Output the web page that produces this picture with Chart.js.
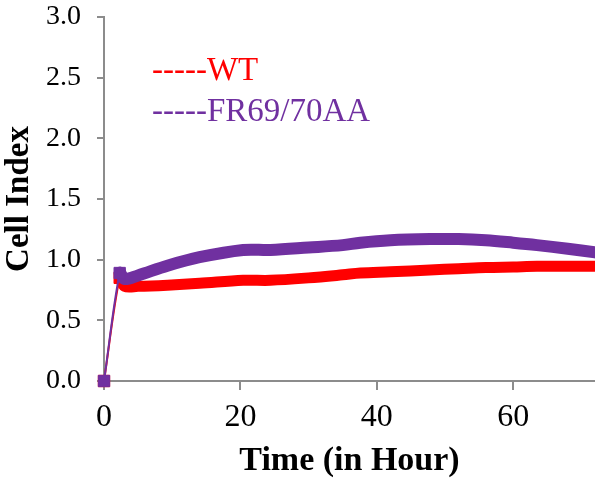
<!DOCTYPE html>
<html>
<head>
<meta charset="utf-8">
<script src="https://cdn.jsdelivr.net/npm/chart.js@4"></script>
<style>
  html, body { margin: 0; padding: 0; background: #fff; }
  canvas { display: block; }
</style>
</head>
<body>
<canvas id="chart" width="595" height="486"></canvas>
<script>
const hours = [0, 2.3, 3, 5, 9.3, 14, 20.4, 24.4, 30, 35, 37.6, 42, 47.8, 52, 56, 60, 63.5, 68, 72];
const wtIndex = [0, 0.85, 0.78, 0.78, 0.79, 0.805, 0.83, 0.83, 0.85, 0.875, 0.89, 0.90, 0.915, 0.925, 0.935, 0.94, 0.945, 0.945, 0.945];
const mutIndex = [0, 0.89, 0.84, 0.87, 0.95, 1.02, 1.08, 1.08, 1.10, 1.12, 1.14, 1.16, 1.17, 1.17, 1.16, 1.14, 1.12, 1.09, 1.06];
const seriesNames = ["WT", "FR69/70AA"];
const seriesColors = ["#FF0000", "#7030A0"];
const yTicks = [0, 0.5, 1, 1.5, 2, 2.5, 3];
const xTicks = [0, 20, 40, 60];

const serif = "'Liberation Serif', 'Times New Roman', serif";
const axisGray = "#8c8c8c";

function toPoints(ys) {
  return hours.map((h, i) => ({ x: h, y: ys[i] }));
}

// markers only on the first two readings, thin connector before the thick trace
function makeSet(idx, values, thick) {
  return {
    label: seriesNames[idx],
    data: toPoints(values),
    borderColor: seriesColors[idx],
    backgroundColor: seriesColors[idx],
    pointBackgroundColor: seriesColors[idx],
    pointBorderColor: seriesColors[idx],
    pointStyle: "rect",
    pointRadius: (c) => (c.dataIndex < 2 ? 8 : 0),
    pointBorderWidth: 1,
    borderWidth: thick,
    borderJoinStyle: "round",
    borderCapStyle: "round",
    tension: 0.35,
    clip: false,
    segment: { borderWidth: (c) => (c.p0DataIndex === 0 ? 2 : thick) },
  };
}

const legendText = {
  id: "legendText",
  afterDraw(chart) {
    const c = chart.ctx;
    c.save();
    c.font = "33px " + serif;
    c.textBaseline = "alphabetic";
    seriesNames.forEach((name, i) => {
      c.fillStyle = seriesColors[i];
      c.fillText("-----" + name, 152, 80 + i * 41);
    });
    c.restore();
  },
};

new Chart(document.getElementById("chart"), {
  type: "line",
  // the mutant is listed first so Chart.js paints it over WT
  data: { datasets: [makeSet(1, mutIndex, 12), makeSet(0, wtIndex, 11)] },
  options: {
    responsive: false,
    animation: false,
    layout: { autoPadding: false, padding: { top: 17, right: 0, left: 0, bottom: 0 } },
    plugins: { legend: { display: false }, tooltip: { enabled: false } },
    scales: {
      x: {
        type: "linear",
        min: 0,
        max: 72,
        afterBuildTicks: (s) => { s.ticks = xTicks.map((v) => ({ value: v })); },
        afterFit: (s) => { s.height = 105; s.paddingLeft = 0; s.paddingRight = 0; },
        grid: { drawOnChartArea: false, drawTicks: true, tickLength: 9, color: axisGray, lineWidth: 2 },
        border: { display: true, color: axisGray, width: 2 },
        ticks: { color: "#000", font: { family: serif, size: 32 }, padding: 8, maxRotation: 0 },
        title: {
          display: true,
          text: "Time (in Hour)",
          color: "#000",
          font: { family: serif, size: 34, weight: "bold" },
          padding: { top: 0, bottom: 4 },
        },
      },
      y: {
        min: 0,
        max: 3,
        afterBuildTicks: (s) => { s.ticks = yTicks.map((v) => ({ value: v })); },
        afterFit: (s) => { s.width = 104; s.paddingTop = 0; s.paddingBottom = 0; },
        grid: { drawOnChartArea: false, drawTicks: true, tickLength: 7, color: axisGray, lineWidth: 2 },
        border: { display: true, color: axisGray, width: 2 },
        ticks: { color: "#000", font: { family: serif, size: 28 }, padding: 16, callback: (v) => v.toFixed(1) },
        title: {
          display: true,
          text: "Cell Index",
          color: "#000",
          font: { family: serif, size: 33, weight: "bold" },
          padding: { top: 0, bottom: 0 },
        },
      },
    },
  },
  plugins: [legendText],
});
</script>
</body>
</html>
